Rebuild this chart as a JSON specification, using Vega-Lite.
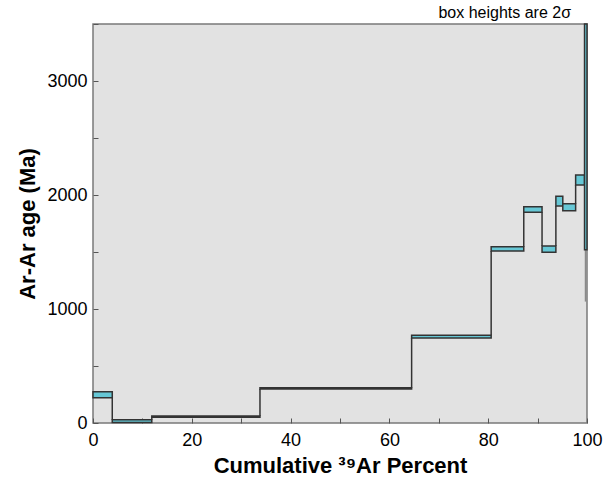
{
  "$schema": "https://vega.github.io/schema/vega-lite/v6.json",
  "width": 494,
  "height": 399,
  "autosize": {"type": "none"},
  "padding": {"left": 93, "top": 24, "right": 26, "bottom": 56},
  "background": "white",
  "title": {"text": "box heights are 2σ", "anchor": "end", "fontSize": 16, "fontWeight": "normal", "font": "Liberation Sans", "color": "black", "baseline": "bottom", "offset": 2, "dx": -31, "dy": 16},
  "config": {
    "view": {"fill": "#e2e2e2", "stroke": "#7a7a7a", "strokeWidth": 1.5},
    "axis": {"labelFont": "Liberation Sans", "titleFont": "Liberation Sans", "labelFontSize": 18, "titleFontSize": 22, "titleFontWeight": "bold", "labelColor": "black", "titleColor": "black", "grid": false, "domain": false, "tickColor": "#555", "tickSize": -5, "tickWidth": 1}
  },
  "datasets": {
    "steps": [
      {"x1": 0, "x2": 3.9, "lo": 222, "hi": 275},
      {"x1": 3.9, "x2": 11.9, "lo": 5, "hi": 28},
      {"x1": 11.9, "x2": 33.8, "lo": 50, "hi": 62},
      {"x1": 33.8, "x2": 64.5, "lo": 298, "hi": 310},
      {"x1": 64.5, "x2": 80.6, "lo": 746, "hi": 769},
      {"x1": 80.6, "x2": 87.2, "lo": 1509, "hi": 1547},
      {"x1": 87.2, "x2": 90.9, "lo": 1848, "hi": 1897},
      {"x1": 90.9, "x2": 93.7, "lo": 1497, "hi": 1553},
      {"x1": 93.7, "x2": 95.1, "lo": 1904, "hi": 1988},
      {"x1": 95.1, "x2": 97.7, "lo": 1862, "hi": 1924},
      {"x1": 97.7, "x2": 99.5, "lo": 2088, "hi": 2175},
      {"x1": 99.5, "x2": 100, "lo": 1520, "hi": 3500}
    ],
    "links": [
      {"x": 3.9, "a": 28, "b": 222, "c": "dark"},
      {"x": 11.9, "a": 28, "b": 50, "c": "dark"},
      {"x": 33.8, "a": 62, "b": 298, "c": "dark"},
      {"x": 64.5, "a": 310, "b": 746, "c": "dark"},
      {"x": 80.6, "a": 769, "b": 1509, "c": "dark"},
      {"x": 87.2, "a": 1547, "b": 1848, "c": "dark"},
      {"x": 90.9, "a": 1553, "b": 1848, "c": "dark"},
      {"x": 93.7, "a": 1553, "b": 1904, "c": "dark"},
      {"x": 97.7, "a": 1924, "b": 2088, "c": "dark"},
      {"x": 99.7, "a": 1065, "b": 1520, "c": "light"}
    ]
  },
  "layer": [
    {
      "data": {"name": "links"},
      "mark": {"type": "rule", "strokeWidth": 1.5},
      "encoding": {
        "x": {"field": "x", "type": "quantitative", "scale": {"domain": [0, 100], "nice": false},
          "axis": {"title": "Cumulative ³⁹Ar Percent", "values": [0, 10, 20, 30, 40, 50, 60, 70, 80, 90, 100], "labelExpr": "datum.value % 20 === 0 ? datum.label : ''", "labelPadding": 13, "titlePadding": 6, "labelFlush": false}},
        "y": {"field": "a", "type": "quantitative", "scale": {"domain": [0, 3500], "nice": false},
          "axis": {"title": "Ar-Ar age (Ma)", "values": [0, 500, 1000, 1500, 2000, 2500, 3000, 3500], "labelExpr": "datum.value % 1000 === 0 ? datum.label : ''", "format": "d", "labelPadding": 11, "titlePadding": 7, "labelFlush": false}},
        "y2": {"field": "b"},
        "color": {"field": "c", "type": "nominal", "scale": {"domain": ["dark", "light"], "range": ["#333333", "#8a8a8a"]}, "legend": null}
      }
    },
    {
      "data": {"name": "steps"},
      "mark": {"type": "rect", "fill": "#66c7d5", "stroke": "#333333", "strokeWidth": 1.5},
      "encoding": {
        "x": {"field": "x1", "type": "quantitative"},
        "x2": {"field": "x2"},
        "y": {"field": "lo", "type": "quantitative"},
        "y2": {"field": "hi"}
      }
    }
  ]
}
